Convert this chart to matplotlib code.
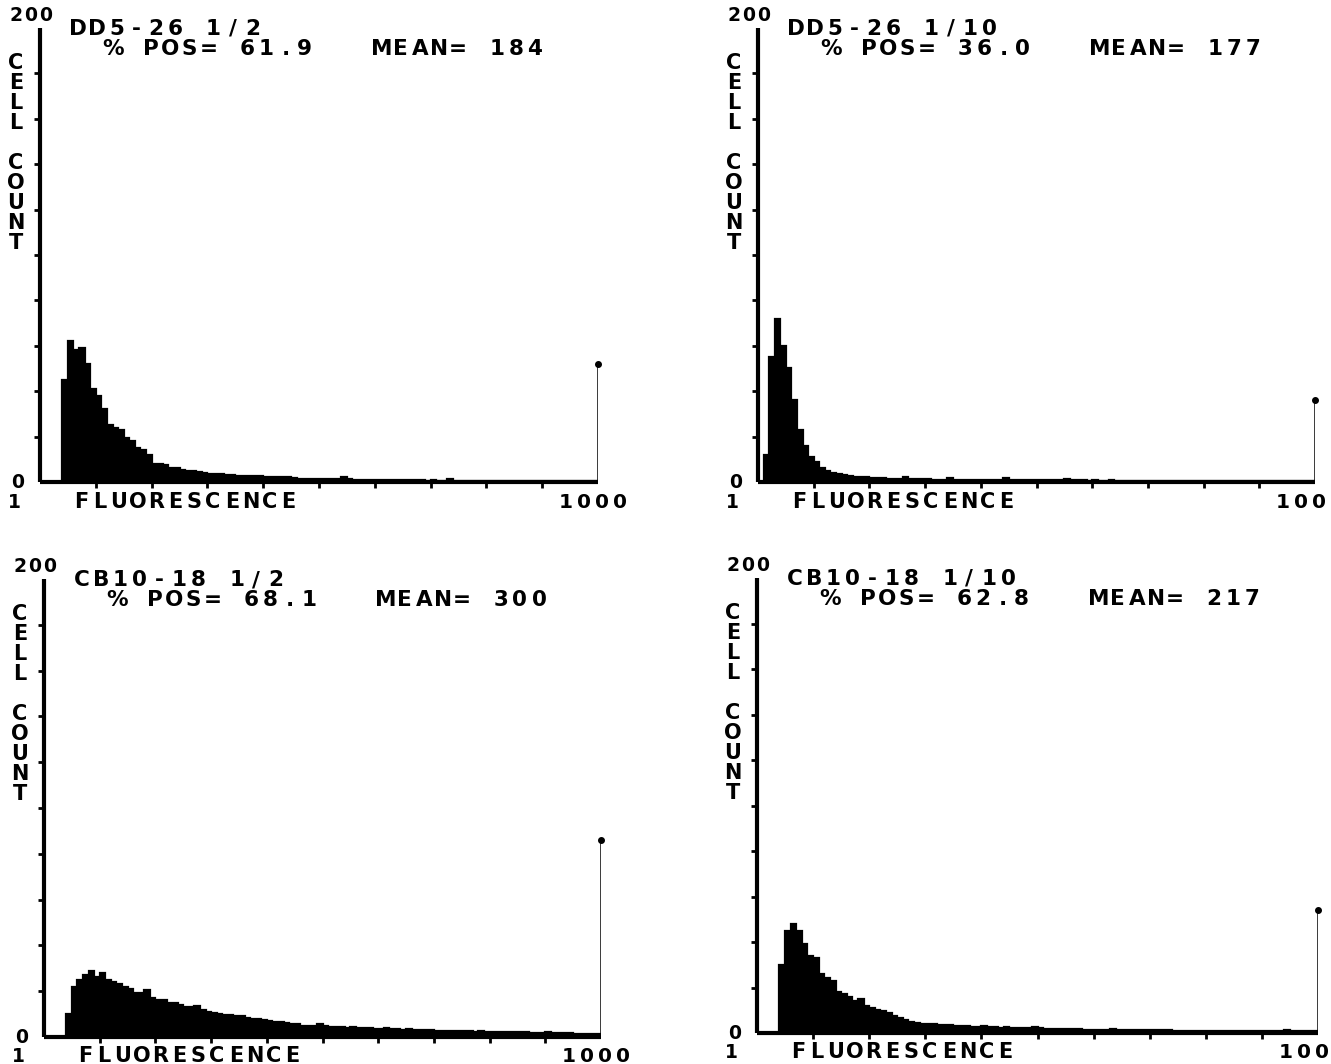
import numpy as np
import matplotlib
matplotlib.use("Agg")
import matplotlib.pyplot as plt

W, H = 1331, 1064

# ---------------- data ----------------
panel_titles = ["DD5-26 1/2", "DD5-26 1/10", "CB10-18 1/2", "CB10-18 1/10"]
pct_pos = ["61.9", "36.0", "68.1", "62.8"]
means = ["184", "177", "300", "217"]
x_max_labels = ["1000", "100", "1000", "100"]
x_min_label = "1"
y_max_label = "200"
y_min_label = "0"
x_title = "FLUORESCENCE"
y_title = "CELL COUNT"
y_max = 200
n_channels = 100

dd5_26_half = [
    0, 0, 0, 0, 45, 62, 58, 59, 52, 41,
    38, 32, 25, 24, 23, 19.5, 18, 15, 14, 12,
    8, 8, 7.5, 6, 6, 5.5, 5, 5, 4.5, 4,
    3.5, 3.5, 3.5, 3, 3, 2.8, 2.7, 2.7, 2.5, 2.5,
    2.2, 2, 2, 2, 2.3, 1.8, 1.5, 1.3, 1.3, 1.5,
    1.2, 1.3, 1.2, 1.5, 2, 1.2, 1.0, 1.0, 0.9, 1.0,
    0.8, 0.8, 0.9, 0.8, 0.7, 0.8, 0.7, 0.7, 0.8, 0.6,
    0.7, 0.6, 0.6, 1.2, 0.6, 0.5, 0.6, 0.5, 0.5, 0.5,
    0.5, 0.5, 0.4, 0.5, 0.4, 0.4, 0.5, 0.4, 0.4, 0.4,
    0.3, 0.4, 0.3, 0.3, 0.4, 0.3, 0.3, 0.3, 0.3, 0.3,
]
dd5_26_tenth = [
    0, 12, 55, 72, 60, 50, 36, 23, 16, 11,
    9, 6, 5, 4, 3.5, 3, 2.5, 2.2, 2, 2,
    1.8, 1.8, 1.6, 1.5, 1.5, 1.4, 2.0, 1.3, 1.2, 1.2,
    1.2, 1.1, 1.1, 1.1, 1.8, 1.0, 1.1, 1.0, 1.0, 0.9,
    1.0, 0.9, 1.0, 0.9, 1.8, 0.9, 0.8, 0.9, 0.8, 0.8,
    0.8, 0.8, 0.7, 0.8, 0.7, 1.2, 0.8, 0.7, 0.7, 0.6,
    0.7, 0.6, 0.6, 1.0, 0.6, 0.6, 0.5, 0.6, 0.5, 0.5,
    0.5, 0.5, 0.5, 0.4, 0.5, 0.4, 0.4, 0.4, 0.4, 0.3,
    0.4, 0.3, 0.3, 0.4, 0.3, 0.3, 0.3, 0.3, 0.3, 0.3,
    0.3, 0.3, 0.3, 0.3, 0.3, 0.3, 0.3, 0.3, 0.3, 0.3,
]
cb10_18_half = [
    0, 0, 0, 0, 10, 22, 25, 27, 29, 26,
    28, 25, 24, 23, 22, 21, 19, 19, 20.5, 17,
    16, 16, 15, 15, 14, 13, 13, 13.5, 12, 11,
    10.5, 10, 9.5, 9.5, 9, 9, 8.5, 8, 8, 7.5,
    7, 6.5, 6.5, 6, 5.5, 5.5, 5, 5, 5, 5.5,
    5, 4.5, 4.5, 4.5, 4, 4.5, 4, 4, 3.8, 3.5,
    3.5, 4, 3.5, 3.3, 3.2, 3.5, 3, 3, 3.2, 3,
    2.8, 2.8, 2.7, 2.6, 2.8, 2.5, 2.5, 2.4, 2.6, 2.3,
    2.3, 2.2, 2.4, 2.1, 2.1, 2.0, 2.2, 1.9, 1.9, 1.8,
    2.0, 1.7, 1.7, 1.6, 1.8, 1.5, 1.5, 1.4, 1.5, 1.3,
]
cb10_18_tenth = [
    0, 0, 0, 0, 30, 45, 48, 45, 39, 34,
    33, 26, 24, 23, 18, 17, 16, 14, 15, 12,
    11, 10, 9.5, 9, 7.5, 6.5, 5.5, 5, 4.5, 4,
    4, 4, 3.5, 3.5, 3.5, 3, 3, 3, 2.5, 2.5,
    3, 2.5, 2.5, 2, 2.5, 2, 2, 2, 2, 2.5,
    2, 1.8, 1.8, 1.7, 1.7, 1.6, 1.6, 1.8, 1.5, 1.5,
    1.5, 1.4, 1.4, 1.6, 1.3, 1.3, 1.3, 1.2, 1.2, 1.4,
    1.2, 1.1, 1.1, 1.1, 1.0, 1.0, 1.0, 1.0, 1.0, 0.9,
    0.9, 0.9, 0.9, 0.9, 0.8, 0.8, 0.8, 0.8, 0.8, 0.8,
    0.7, 0.7, 0.7, 0.7, 1.2, 0.7, 0.7, 0.8, 0.7, 0.7,
]
histograms = [dd5_26_half, dd5_26_tenth, cb10_18_half, cb10_18_tenth]
overflow_counts = [52, 36, 86, 54]

# ---------------- layout (pixels) ----------------
# (left, right, top, zero-line) of each plot frame
frames = [(40, 598, 28, 482), (758, 1315, 28, 482),
          (44, 601, 579, 1037), (757, 1318, 578, 1033)]

FONT = "DejaVu Sans"


def put_text(x_px, y_px, s, pitch, size):
    """Monospaced, character-by-character text (baseline at y_px)."""
    for i, ch in enumerate(s):
        if ch == " ":
            continue
        cx = x_px + pitch * i + pitch / 2.0
        fig.text(cx / W, 1 - y_px / H, ch, ha="center", va="baseline",
                 fontsize=size, family=FONT, weight="bold", color="black")


fig = plt.figure(figsize=(W / 100, H / 100), dpi=100)
fig.patch.set_facecolor("white")

for k in range(4):
    L, R, T, Z = frames[k]
    ax = fig.add_axes([L / W, 1 - Z / H, (R - L) / W, (Z - T) / H])
    vals = np.asarray(histograms[k], dtype=float)
    edges = np.arange(n_channels + 1)
    ax.stairs(vals, edges, fill=True, color="black", lw=0)
    ax.stairs(vals, edges, color="black", lw=1.6)
    ax.vlines(n_channels, 0, overflow_counts[k], color="black", lw=1.8)
    ax.plot([n_channels], [overflow_counts[k]], "o", color="black", ms=4,
            clip_on=False)
    ax.set_xlim(0, n_channels)
    ax.set_ylim(0, y_max)
    for side in ("top", "right"):
        ax.spines[side].set_visible(False)
    for side in ("left", "bottom"):
        ax.spines[side].set_linewidth(3.0)
        ax.spines[side].set_capstyle("butt")
    ax.set_xticks(np.arange(10, n_channels, 10))
    ax.set_yticks(np.arange(20, y_max, 20))
    ax.tick_params(axis="both", direction="out", length=4, width=2,
                   labelbottom=False, labelleft=False)
    ax.patch.set_alpha(0)

    # labels
    put_text(L - 31, T - 7, y_max_label, 14.5, 13.5)
    put_text(L + 28, T + 7, panel_titles[k], 19.4, 15.5)
    pos_line = "% POS= " + pct_pos[k] + "   MEAN= " + means[k]
    put_text(L + 63, T + 27, pos_line, 19.2, 15.5)
    for j, ch in enumerate(y_title):
        if ch == " ":
            continue
        fig.text((L - 24) / W, 1 - (T + 41 + 20 * j) / H, ch, ha="center",
                 va="baseline", fontsize=15, family=FONT, weight="bold")
    put_text(L - 29, Z + 6, y_min_label, 14, 13.5)
    put_text(L - 33, Z + 25.5, x_min_label, 14, 13.5)
    put_text(L + 32, Z + 25.5, x_title, 18.8, 15)
    put_text(R - 41, Z + 25.5, x_max_labels[k], 18, 14.5)

fig.savefig("out.png", dpi=100, facecolor="white")
